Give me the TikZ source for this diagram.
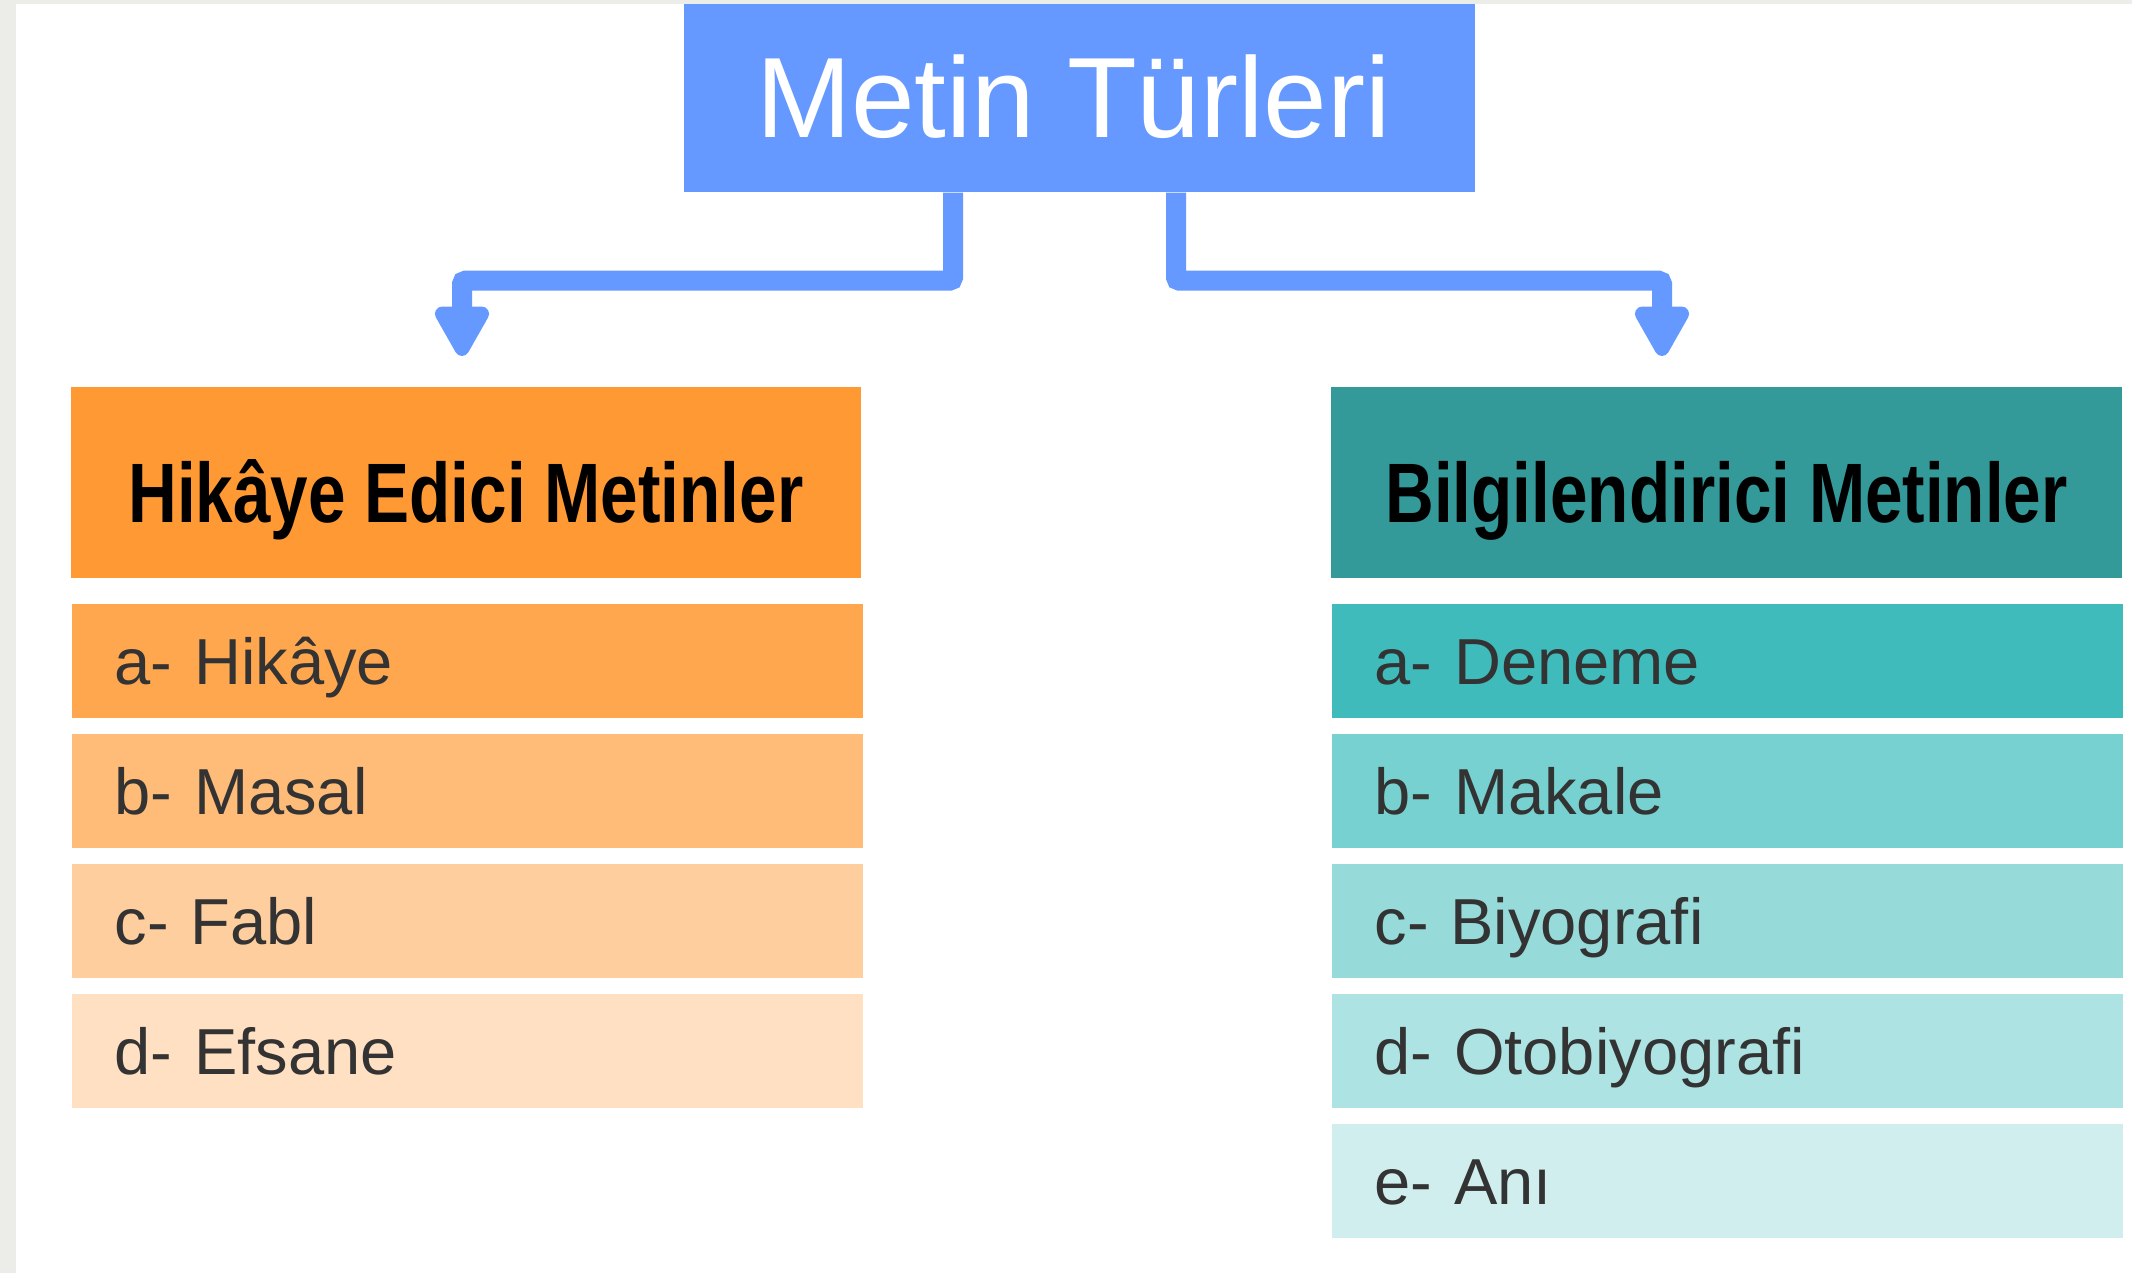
\documentclass[tikz,border=0pt]{standalone}
\usepackage{fontspec}
\setmainfont{Liberation Sans}
\newfontfamily\headfont[FakeStretch=0.8]{Liberation Sans}
\usepackage{xcolor}
\usepackage{tikz}
\usetikzlibrary{arrows.meta}
\definecolor{frame}{HTML}{ECECE8}
\definecolor{topblue}{HTML}{6699FF}
\definecolor{itemtext}{HTML}{333333}
\definecolor{orH}{HTML}{FF9933}
\definecolor{orA}{HTML}{FFA74F}
\definecolor{orB}{HTML}{FFBB78}
\definecolor{orC}{HTML}{FFCE9E}
\definecolor{orD}{HTML}{FFE0C3}
\definecolor{tlH}{HTML}{339999}
\definecolor{tlA}{HTML}{3FBBBB}
\definecolor{tlB}{HTML}{77D1D0}
\definecolor{tlC}{HTML}{96DAD9}
\definecolor{tlD}{HTML}{AEE3E3}
\definecolor{tlE}{HTML}{D0EEEE}
\tikzset{
  topbox/.style={fill=topblue, text=white, font=\fontsize{32.5}{38}\selectfont, minimum width=7.91cm, minimum height=1.88cm, inner sep=0pt, text height=0.78cm, text depth=0pt},
  conn/.style={draw=topblue, line width=2mm, rounded corners=1pt, -{Triangle[width=6mm,length=5.8mm,round]}},
  head/.style={text=black, font=\headfont\bfseries\fontsize{24}{28}\selectfont, minimum width=7.9cm, minimum height=1.91cm, inner sep=0pt, text height=0.79cm, text depth=0pt},
  item/.style={anchor=north west, text=itemtext, font=\fontsize{18.5}{22}\selectfont, text width=7.05cm, align=left, minimum height=1.14cm, inner xsep=0.43cm, inner ysep=0pt, text height=0.48cm, text depth=0pt},
}
\begin{document}
\begin{tikzpicture}
  \fill[frame] (0,0) rectangle (21.32,-12.73);
  \fill[white] (0.16,-0.04) rectangle (21.32,-12.73);
  \node[topbox] (top) at (10.795,-0.98) {\hspace*{-0.12cm}Metin Türleri};
  \node[head, fill=orH] (hik) at (4.66,-4.825) {Hikâye Edici Metinler};
  \node[head, fill=tlH, minimum width=7.91cm] (bilgi) at (17.265,-4.825) {Bilgilendirici Metinler};
  \coordinate (tipL) at (4.62,-3.56);
  \coordinate (tipR) at (16.62,-3.56);
  \draw[conn] ([xshift=-1.265cm]top.south) -- ++(0,-0.88) -| (tipL);
  \draw[conn] ([xshift=0.965cm]top.south) -- ++(0,-0.88) -| (tipR);
  % list rows
  \foreach \t/\c [count=\k from 0] in {a- Hikâye/orA, b- Masal/orB, c- Fabl/orC, d- Efsane/orD}
    \node[item, fill=\c] (hik-\k) at (0.71,{-6.03-1.3*\k}) {\t};
  \foreach \t/\c [count=\k from 0] in {a- Deneme/tlA, b- Makale/tlB, c- Biyografi/tlC, d- Otobiyografi/tlD, e- Anı/tlE}
    \node[item, fill=\c] (bilgi-\k) at (13.31,{-6.03-1.3*\k}) {\t};
\end{tikzpicture}
\end{document}
